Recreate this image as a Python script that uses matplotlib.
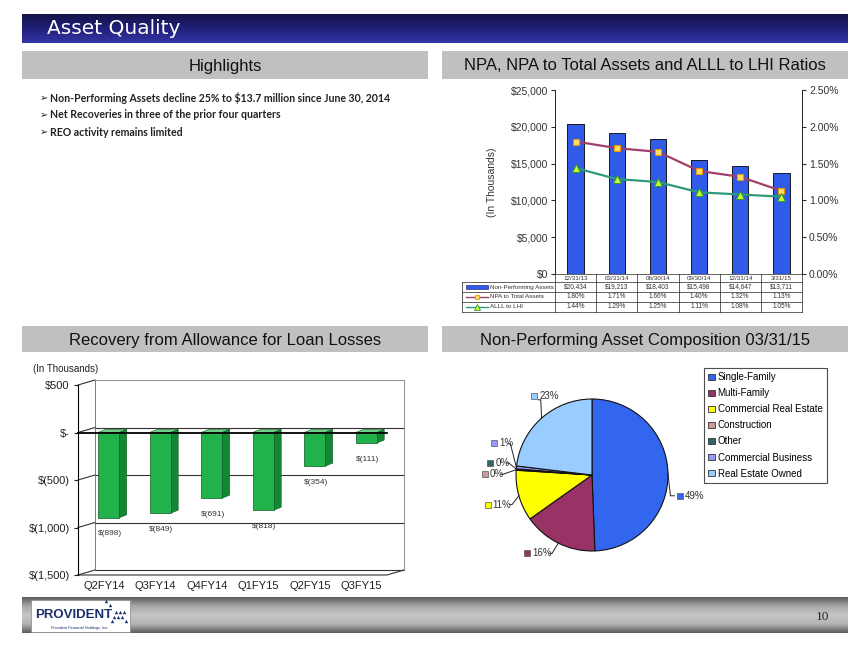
import matplotlib
matplotlib.use('Agg')
import matplotlib.pyplot as plt
import numpy as np
from matplotlib.patches import Rectangle, Polygon, Patch
from matplotlib.colors import to_rgb

plt.rcParams['font.family'] = ['Liberation Sans', 'DejaVu Sans']

# ---- data ----
highlights = ['Non-Performing Assets decline 25% to $13.7 million since June 30, 2014',
              'Net Recoveries in three of the prior four quarters',
              'REO activity remains limited']

npa_dates = ['12/31/13', '03/31/14', '06/30/14', '09/30/14', '12/31/14', '3/31/15']
npa_values = [20434, 19213, 18403, 15498, 14647, 13711]
npa_to_assets = [1.80, 1.71, 1.66, 1.40, 1.32, 1.13]
alll_to_lhi = [1.44, 1.29, 1.25, 1.11, 1.08, 1.05]

recovery_quarters = ['Q2FY14', 'Q3FY14', 'Q4FY14', 'Q1FY15', 'Q2FY15', 'Q3FY15']
recovery_values = [-898, -849, -691, -818, -354, -111]

npa_types = ['Single-Family', 'Multi-Family', 'Commercial Real Estate', 'Construction',
             'Other', 'Commercial Business', 'Real Estate Owned']
npa_shares = [49.4, 15.8, 10.8, 0.2, 0.1, 0.6, 23.1]
npa_colors = ['#3366ee', '#993366', '#ffff00', '#cc9999', '#336666', '#9999ff', '#99ccff']

W, H = 864, 648
fig = plt.figure(figsize=(W / 100, H / 100), dpi=100)
fig.patch.set_facecolor('white')


def px_axes(l, t, r, b):
    return fig.add_axes([l / W, 1 - b / H, (r - l) / W, (b - t) / H])


def gradient(ax, l, t, r, b, stops):
    n = 64
    pos = np.linspace(0, 1, len(stops))
    rgb = np.array([to_rgb(c) for c in stops])
    yy = np.linspace(0, 1, n)
    arr = np.stack([np.interp(yy, pos, rgb[:, k]) for k in range(3)], axis=1)
    ax.imshow(arr[:, None, :], extent=(l, r, b, t), aspect='auto', interpolation='bilinear', zorder=1)


# ---- page background / decorations (pixel coordinates) ----
bg = fig.add_axes([0, 0, 1, 1])
bg.axis('off')
gradient(bg, 22, 14, 848, 43, ['#141448', '#20207a', '#3535a6'])
bg.text(47, 29, 'Asset Quality', color='white', fontsize=14.5, va='center', family='DejaVu Sans')

for (l, t, r, b), title in [((22, 51, 428, 79), 'Highlights'),
                            ((442, 51, 848, 79), 'NPA, NPA to Total Assets and ALLL to LHI Ratios'),
                            ((22, 326, 428, 352), 'Recovery from Allowance for Loan Losses'),
                            ((442, 326, 848, 352), 'Non-Performing Asset Composition 03/31/15')]:
    bg.add_patch(Rectangle((l, t), r - l, b - t, fc='#c0c0c0', ec='none', zorder=1))
    bg.text((l + r) / 2, (t + b) / 2 + 1, title, ha='center', va='center', fontsize=12, color='#111111')

for i, line in enumerate(highlights):
    y = 98 + i * 17
    bg.text(40, y, '\u27a2', fontsize=7, va='center', family=['DejaVu Sans'], color='#222222')
    bg.text(50, y, line, fontsize=7.6, va='center', fontweight='bold', family=['Lato', 'DejaVu Sans'],
            color='#222222')

# footer
gradient(bg, 22, 597, 848, 633, ['#5c5c5c', '#a8a8a8', '#c6c6c6', '#b4b4b4', '#5c5c5c'])
bg.add_patch(Rectangle((31, 600), 99, 32, fc='white', ec='#888888', lw=0.5, zorder=2))
bg.text(35, 615, 'PROVIDENT', fontsize=9.5, fontweight='bold', color='#1c2f6e', va='center',
        family='Liberation Sans', zorder=3)
bg.scatter([114, 118, 122, 116, 120, 124, 112, 126, 110, 106],
           [617, 617, 617, 612, 612, 612, 621, 621, 605, 601],
           marker='^', s=6, color='#1c2f6e', zorder=3, linewidths=0)
bg.text(80, 628, 'Provident Financial Holdings, Inc.', fontsize=2.8, color='#1c2f6e', ha='center',
        va='center', zorder=3)
bg.text(822, 617, '10', fontsize=9.5, color='#222222', ha='center', va='center', family='Liberation Serif')

# ---- NPA chart ----
x = np.arange(len(npa_dates))
ax1 = px_axes(555, 90, 802, 274)
ax1.patch.set_alpha(0)
ax1.bar(x, npa_values, width=0.4, color='#2f5be8', edgecolor='black', linewidth=0.6, zorder=2)
ax1.set_xlim(-0.5, len(x) - 0.5)
ax1.set_ylim(0, 25000)
ax1.set_yticks(np.arange(0, 25001, 5000))
ax1.set_yticklabels(['${:,.0f}'.format(v) for v in np.arange(0, 25001, 5000)])
ax1.set_xticks([])
ax1.tick_params(axis='y', labelsize=7.5, length=3, colors='#333333', pad=2)
ax1.set_ylabel('(In Thousands)', fontsize=7.5, color='#333333')
ax1.yaxis.set_label_coords(-0.235, 0.5)
for s in ['top', 'bottom', 'right']:
    ax1.spines[s].set_visible(False)
ax1.spines['left'].set_linewidth(0.6)

ax2 = ax1.twinx()
ax2.plot(x, npa_to_assets, color='#a0406a', lw=1.6, marker='s', ms=5, mfc='#ffe066', mec='#e69500',
         mew=0.8, zorder=3)
ax2.plot(x, alll_to_lhi, color='#2f9a7a', lw=1.6, marker='^', ms=6, mfc='#ccff33', mec='#339933',
         mew=0.8, zorder=3)
ax2.set_ylim(0, 2.5)
ax2.set_yticks(np.arange(0, 2.51, 0.5))
ax2.set_yticklabels(['{:.2f}%'.format(v) for v in np.arange(0, 2.51, 0.5)])
ax2.tick_params(axis='y', labelsize=7.5, length=3, colors='#333333', pad=2)
for s in ['top', 'bottom', 'left']:
    ax2.spines[s].set_visible(False)
ax2.spines['right'].set_linewidth(0.6)

# data table under the chart
col_l, col_r = 555, 802
cw = (col_r - col_l) / len(npa_dates)
lab_l = 462
rows_y = [274, 282, 292, 302, 312]
tkw = dict(lw=0.5, color='#222222', zorder=3)
bg.plot([col_l, col_r], [rows_y[0], rows_y[0]], **tkw)
for yy in rows_y[1:]:
    bg.plot([lab_l, col_r], [yy, yy], **tkw)
bg.plot([lab_l, lab_l], [rows_y[1], rows_y[-1]], **tkw)
for k in range(len(npa_dates) + 1):
    bg.plot([col_l + k * cw] * 2, [rows_y[0], rows_y[-1]], **tkw)
for k, d in enumerate(npa_dates):
    bg.text(col_l + (k + 0.5) * cw, 278, d, fontsize=4.5, ha='center', va='center', color='#333333', zorder=4)
row_text = [['${:,.0f}'.format(v) for v in npa_values],
            ['{:.2f}%'.format(v) for v in npa_to_assets],
            ['{:.2f}%'.format(v) for v in alll_to_lhi]]
row_names = ['Non-Performing Assets', 'NPA to Total Assets', 'ALLL to LHI']
for r in range(3):
    yc = (rows_y[r + 1] + rows_y[r + 2]) / 2
    bg.text(490, yc, row_names[r], fontsize=4.5, va='center', color='#333333', zorder=4)
    for k, t in enumerate(row_text[r]):
        bg.text(col_l + (k + 0.5) * cw, yc, t, fontsize=4.7, ha='center', va='center', color='#333333', zorder=4)
ky = [(rows_y[i + 1] + rows_y[i + 2]) / 2 for i in range(3)]
bg.add_patch(Rectangle((466, ky[0] - 1.8), 22, 3.6, fc='#2f5be8', ec='#111166', lw=0.4, zorder=4))
bg.plot([466, 488], [ky[1]] * 2, color='#a0406a', lw=1, zorder=4)
bg.plot([477], [ky[1]], marker='s', ms=3.5, mfc='#ffe066', mec='#e69500', mew=0.6, zorder=5)
bg.plot([466, 488], [ky[2]] * 2, color='#2f9a7a', lw=1, zorder=4)
bg.plot([477], [ky[2]], marker='^', ms=4, mfc='#ccff33', mec='#339933', mew=0.6, zorder=5)

# ---- Recovery chart (pseudo 3D columns) ----
ax3 = px_axes(78, 385, 387, 575)
ax3.patch.set_alpha(0)
n = len(recovery_values)
ax3.set_xlim(-0.5, n - 0.5)
ax3.set_ylim(-1500, 500)
ux = 309 / n            # px per category
uy = 190 / 2000         # px per thousand-dollar
wdx, wdy = 17 / ux, 5 / uy      # wall depth
bdx, bdy = 7.5 / ux, 3 / uy     # bar depth
yt = [500, 0, -500, -1000, -1500]


def money(v):
    if v == 0:
        return '$-'
    if v < 0:
        return '$({:,.0f})'.format(-v)
    return '${:,.0f}'.format(v)


for v in yt:
    ax3.plot([-0.5, -0.5 + wdx], [v, v + wdy], color='#333333', lw=0.8, clip_on=False)
    c = '#999999' if v == 500 else '#333333'
    ax3.plot([-0.5 + wdx, n - 0.5 + wdx], [v + wdy, v + wdy], color=c, lw=0.8, clip_on=False)
ax3.plot([-0.5 + wdx] * 2, [-1500 + wdy, 500 + wdy], color='#666666', lw=0.6, clip_on=False)
ax3.plot([n - 0.5 + wdx] * 2, [-1500 + wdy, 500 + wdy], color='#999999', lw=0.8, clip_on=False)
ax3.plot([-0.5, n - 0.5, n - 0.5 + wdx], [-1500, -1500, -1500 + wdy], color='#333333', lw=0.8, clip_on=False)

for i, v in enumerate(recovery_values):
    x0, x1 = i - 0.11, i + 0.30
    ax3.add_patch(Polygon([(x0, 0), (x1, 0), (x1 + bdx, bdy), (x0 + bdx, bdy)], closed=True,
                          fc='#6fd08a', ec='#0b5a20', lw=0.4, zorder=3))
    ax3.add_patch(Polygon([(x1, 0), (x1 + bdx, bdy), (x1 + bdx, v + bdy), (x1, v)], closed=True,
                          fc='#128734', ec='#0b5a20', lw=0.4, zorder=3))
    ax3.add_patch(Rectangle((x0, v), x1 - x0, -v, fc='#22b24c', ec='#0b5a20', lw=0.5, zorder=4))
    ax3.text(i + 0.12, v - 170, money(v), fontsize=6, ha='center', va='center', color='#333333')
ax3.plot([-0.5, n - 0.5], [0, 0], color='black', lw=1.3, zorder=5, clip_on=False)

ax3.set_yticks(yt)
ax3.set_yticklabels([money(v) for v in yt])
ax3.set_xticks(np.arange(n))
ax3.set_xticklabels(recovery_quarters)
ax3.tick_params(axis='y', labelsize=8, length=3, colors='#222222', pad=3)
ax3.tick_params(axis='x', labelsize=8, length=0, colors='#222222', pad=4)
for s in ['top', 'right', 'bottom']:
    ax3.spines[s].set_visible(False)
ax3.spines['left'].set_linewidth(0.8)
bg.text(66, 369, '(In Thousands)', fontsize=7, ha='center', va='center', color='#222222')

# ---- Composition pie ----
cx, cy, rad = 592, 475, 95
ax4 = px_axes(cx - rad, cy - rad, cx + rad, cy + rad)
ax4.set_xlim(-1, 1)
ax4.set_ylim(-1, 1)
ax4.axis('off')
wedges, _ = ax4.pie(npa_shares, colors=npa_colors, startangle=90, counterclock=False, radius=1,
                    wedgeprops=dict(edgecolor='#111111', linewidth=0.8))

label_pos = [(702, 501), (511, 573), (462, 512), (458, 474), (465, 460), (470, 435), (520, 376)]
elbows = [(690, 501), (542, 573), (492, 512), (481, 474), (488, 460), (490, 436), (528, 381)]


def to_pie(p):
    return ((p[0] - cx) / rad, (cy - p[1]) / rad)


for w, s, c, lp, el in zip(wedges, npa_shares, npa_colors, label_pos, elbows):
    ang = np.deg2rad((w.theta1 + w.theta2) / 2)
    edge = (np.cos(ang), np.sin(ang))
    e = to_pie(el)
    side = 1 if lp[0] > cx else -1
    end = to_pie((el[0] + side * 5, el[1])) if side > 0 else to_pie((el[0] - 3, el[1]))
    ax4.plot([edge[0], e[0], end[0]], [edge[1], e[1], end[1]], color='#222222', lw=0.7, clip_on=False)
    m = to_pie(lp)
    ax4.plot([m[0]], [m[1]], marker='s', ms=3.8, mfc=c, mec='#555555', mew=0.5, clip_on=False)
    t = to_pie((lp[0] + 6, lp[1]))
    ax4.text(t[0], t[1], '{:.0f}%'.format(s), fontsize=7, va='center', color='#333333', clip_on=False)

handles = [Patch(fc=c, ec='#333333', lw=0.6) for c in npa_colors]
leg = ax4.legend(handles, npa_types, loc='upper left', bbox_to_anchor=(704 / W, 1 - 368 / H),
                 bbox_transform=fig.transFigure, fontsize=7, frameon=True, fancybox=False,
                 edgecolor='#222222', handlelength=0.65, handleheight=0.65, handletextpad=0.3,
                 labelspacing=0.62, borderpad=0.45, borderaxespad=0)
leg.get_frame().set_linewidth(0.8)

bg.set_xlim(0, W)
bg.set_ylim(H, 0)

fig.savefig('out.png', dpi=100)
